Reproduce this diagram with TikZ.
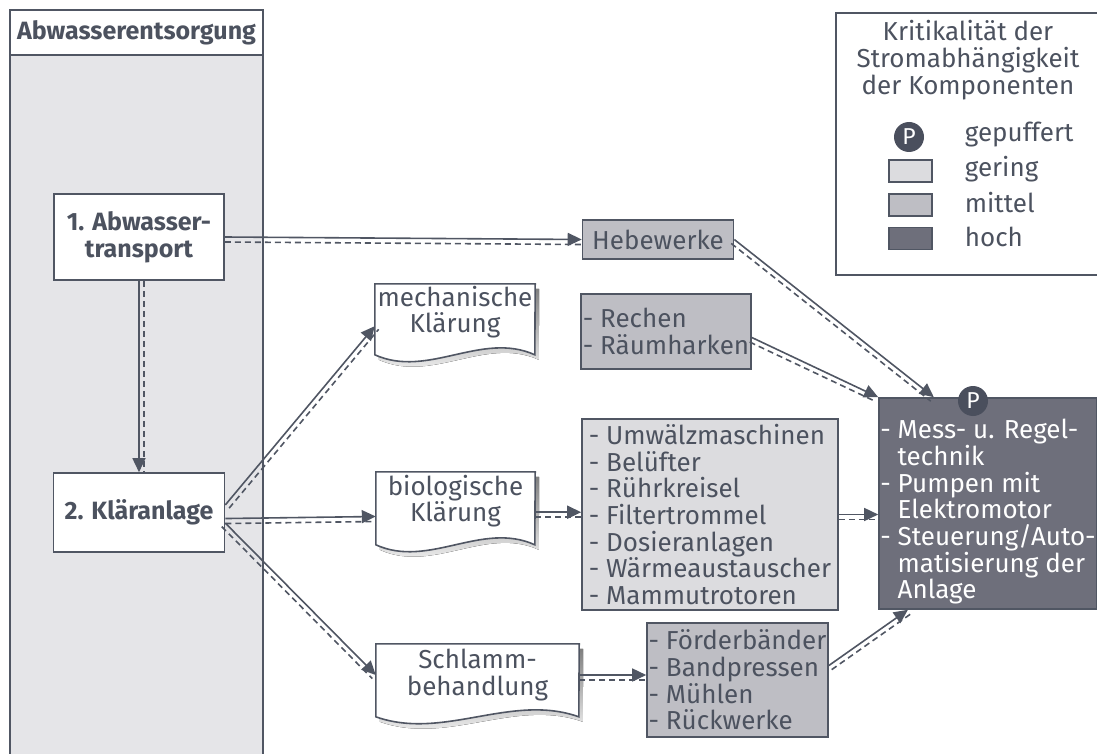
\documentclass[tikz,border=0pt]{standalone}
\usepackage{fontspec}
\setmainfont{Fira Sans}
\usetikzlibrary{arrows.meta, calc, backgrounds}
\definecolor{ink}{RGB}{76, 82, 95}
\definecolor{rule}{RGB}{80, 86, 99}
\definecolor{lane}{RGB}{229, 229, 232}
\definecolor{low}{RGB}{220, 220, 223}
\definecolor{mid}{RGB}{190, 190, 196}
\definecolor{high}{RGB}{110, 111, 123}
\definecolor{buffer}{RGB}{74, 79, 93}
\definecolor{shade}{RGB}{160, 160, 168}

% solid arrow with a dashed twin beside it
\newcommand{\flow}[3][-90]{%
  \pgfmathsetmacro{\backang}{180+#1}
  \draw[link, dash pattern=on 6pt off 4pt] ($(#2)!5pt!#1:(#3)$) -- ($(#3)!5pt!\backang:(#2)$);
  \draw[link, -{Triangle[length=14pt, width=13pt]}] (#2) -- (#3);
}

% document shape with wavy bottom and shadow
\newcommand{\docshape}[3]{%
  \fill[shade, transform canvas={xshift=4pt, yshift=-5pt}] (#1.north west) -- ++(0,#3)
    .. controls +(#2/3,24) and +(-#2/3,-24) .. ++(#2,0) -- (#1.north east) -- cycle;
  \draw[boxline, fill=white] (#1.north west) -- ++(0,#3)
    .. controls +(#2/3,24) and +(-#2/3,-24) .. ++(#2,0) -- (#1.north east) -- cycle;
}

\begin{document}
\fontsize{26}{26.7}\selectfont
\begin{tikzpicture}[x=1pt, y=-1pt, text=ink,
    boxline/.style={draw=rule, line width=1.6pt},
    box/.style={boxline, inner sep=0pt, align=center},
    list/.style={boxline, inner sep=0pt, align=left},
    doc/.style={inner sep=0pt, align=center},
    link/.style={draw=rule, line width=1.6pt},
    buf/.style={circle, fill=buffer, text=white, inner sep=0pt, minimum size=30, font=\fontsize{23}{23}\selectfont},
    swatch/.style={boxline, line width=1.3pt, minimum width=43, minimum height=22}]
  \useasboundingbox (0,0) rectangle (1097,754);

  % lane on the left
  \fill[lane] (10,55) rectangle (263,760);
  \draw[boxline] (10,760) |- (263,10) -- (263,760);
  \node[box, fill=white, minimum width=253, minimum height=45, font=\fontsize{25}{26.7}\selectfont\bfseries] (head) at (136.5,32.5) {Abwasserentsorgung};

  \node[box, fill=white, minimum width=170, minimum height=86, font=\fontsize{25}{26.7}\selectfont\bfseries] (trans) at (139,237) {1. Abwasser-\\transport};
  \node[box, fill=white, minimum width=171, minimum height=79, font=\fontsize{25}{26.7}\selectfont\bfseries] (plant) at (139,512.5) {2. Kläranlage};

  % stages
  \node[doc, minimum width=160, minimum height=56] (mech) at (455,312) {mechanische\\Klärung};
  \node[doc, minimum width=159, minimum height=58] (bio) at (455.5,501) {biologische\\Klärung};
  \node[doc, minimum width=203, minimum height=62] (sludge) at (477.5,675) {Schlamm-\\behandlung};

  % components
  \node[box, fill=mid, minimum width=151, minimum height=39] (lift) at (658,239.5) {Hebewerke};
  \node[list, fill=mid, minimum width=170, minimum height=75] (rake) at (666,331.5) {- Rechen\\- Räumharken};
  \node[list, fill=low, minimum width=256, minimum height=191] (aer) at (710,514.5)
    {- Umwälzmaschinen\\- Belüfter\\- Rührkreisel\\- Filtertrommel\\- Dosieranlagen\\- Wärmeaustauscher\\- Mammutrotoren};
  \node[list, fill=mid, minimum width=181, minimum height=114] (belt) at (737.5,680)
    {- Förderbänder\\- Bandpressen\\- Mühlen\\- Rückwerke};
  \node[list, fill=high, text=white, minimum width=218, minimum height=211] (ctrl) at (988,503.5)
    {\rule{0pt}{36pt}- Mess- u. Regel-\\\hphantom{- }technik\\- Pumpen mit\\\hphantom{- }Elektromotor\\- Steuerung/Auto-\\\hphantom{- }matisierung der\\\hphantom{- }Anlage};
  \node[buf] (ctrlbuf) at (973,401) {P};

  % legend
  \draw[boxline] (836,13) rectangle (1100,275);
  \node[align=center] (keytitle) at (968,60) {Kritikalität der\\Stromabhängigkeit\\der Komponenten};
  \node[buf] (keybuf) at (909,137) {P};
  \node[swatch, fill=low] (keylow) at (910.5,171) {};
  \node[swatch, fill=mid] (keymid) at (910.5,205) {};
  \node[swatch, fill=high] (keyhigh) at (910.5,238.5) {};
  \node[anchor=west] (keybuftext) at (956,135) {gepuffert};
  \node[anchor=west] (keylowtext) at (956,169) {gering};
  \node[anchor=west] (keymidtext) at (956,203) {mittel};
  \node[anchor=west] (keyhightext) at (956,237) {hoch};

  \begin{pgfonlayer}{background}
    \docshape{mech}{160}{71}
    \docshape{bio}{159}{73}
    \docshape{sludge}{203}{73}
  \end{pgfonlayer}

  % connectors
  \flow[90]{trans.south}{plant.north}
  \flow{trans.east}{lift.west}
  \flow{plant.5}{mech.190}
  \flow{plant.-4}{bio.191}
  \flow{plant.-7}{sludge.west}
  \flow{bio.-8}{bio.-8 -| aer.west}
  \flow{aer.east}{aer.east -| ctrl.west}
  \flow{sludge.east}{sludge.east -| belt.west}
  \flow{lift.east}{ctrl.117}
  \flow{rake.-4}{ctrl.north west}
  \flow{belt.9}{ctrl.233}
\end{tikzpicture}
\end{document}
